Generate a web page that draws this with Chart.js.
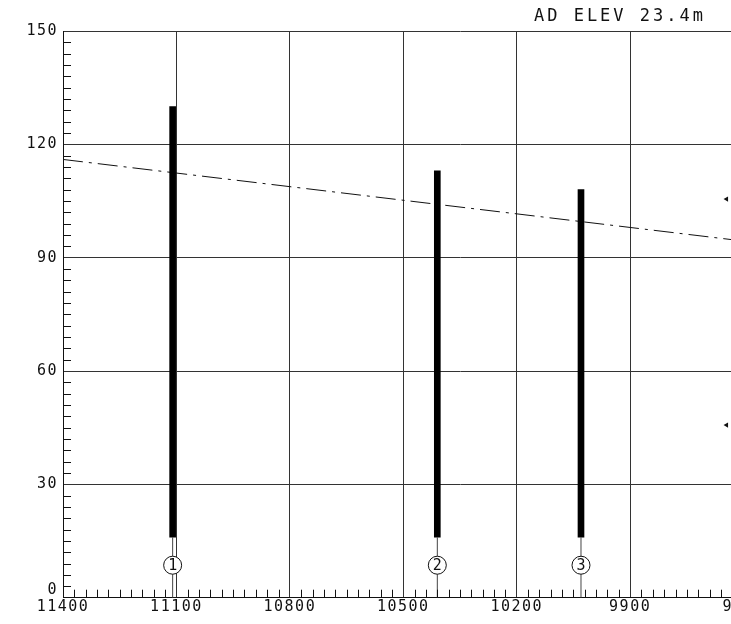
<!DOCTYPE html>
<html>
<head>
<meta charset="utf-8">
<script src="https://cdn.jsdelivr.net/npm/chart.js@4.4.1/dist/chart.umd.min.js"></script>
<style>
  html, body { margin: 0; padding: 0; background: #fff; overflow: hidden; }
  #wrap { width: 897px; height: 624px; position: relative; }
</style>
</head>
<body>
<div id="wrap"><canvas id="profile"></canvas></div>
<script>
// distance (m, decreasing to the right) and height (m)
const obstacleX = [11110, 10410, 10030];
const obstacleBase = [16, 16, 16];
const obstacleTop = [130, 113, 108];
const obstacleNums = ["1", "2", "3"];
const labelHeight = 8.6;

const surfaceX = [11400, 9600];
const surfaceY = [116, 94.4];

const arrowX = [9645, 9645];
const arrowY = [105.5, 45.7];

const titleText = "AD ELEV 23.4m";
const FONT = "'DejaVu Sans Mono', monospace";
const INK = "#111";

const bars = obstacleX.map((x, i) => ({ x: x, y: [obstacleBase[i], obstacleTop[i]] }));
const stems = obstacleX.map((x, i) => ({
  type: "line",
  data: [{ x: x, y: 0 }, { x: x, y: obstacleBase[i] }],
  borderColor: "#444",
  borderWidth: 1,
  pointRadius: 0,
  order: 1,
}));

// minor ticks, title, circled numbers, the lifted "0"
const drawingExtras = {
  id: "drawingExtras",
  beforeDraw(chart) {
    chart.ctx.letterSpacing = "1.5px";
  },
  afterDraw(chart) {
    const ctx = chart.ctx;
    const xs = chart.scales.x;
    const ys = chart.scales.y;
    const area = chart.chartArea;
    ctx.save();
    ctx.strokeStyle = INK;
    ctx.lineWidth = 1;
    ctx.beginPath();
    for (let v = 3; v < 150; v += 3) {
      if (v % 30 === 0) continue;
      const py = Math.round(ys.getPixelForValue(v)) + 0.5;
      ctx.moveTo(area.left, py);
      ctx.lineTo(area.left + 8, py);
    }
    for (let v = 9330; v < 11400; v += 30) {
      if (v % 300 === 0) continue;
      const px = Math.round(xs.getPixelForValue(v)) + 0.5;
      ctx.moveTo(px, area.bottom);
      ctx.lineTo(px, area.bottom - 8);
    }
    ctx.stroke();

    ctx.fillStyle = INK;
    ctx.font = "15px " + FONT;
    ctx.letterSpacing = "1.5px";
    ctx.textAlign = "right";
    ctx.textBaseline = "middle";
    ctx.fillText("0", area.left - 5, ys.getPixelForValue(0) - 8);

    ctx.font = "15px " + FONT;
    ctx.letterSpacing = "0px";
    ctx.textAlign = "center";
    const meta = chart.getDatasetMeta(1);
    meta.data.forEach((pt, i) => {
      ctx.fillText(obstacleNums[i], pt.x, pt.y + 1);
    });

    ctx.font = "17px " + FONT;
    ctx.letterSpacing = "3px";
    ctx.textAlign = "right";
    ctx.fillText(titleText, 706, 17);
    ctx.restore();
  },
};

new Chart(document.getElementById("profile"), {
  data: {
    datasets: [
      {
        type: "bar",
        data: bars,
        backgroundColor: "#000",
        barThickness: 6,
        order: 2,
      },
      {
        type: "scatter",
        data: obstacleX.map((x) => ({ x: x, y: labelHeight })),
        pointRadius: 9,
        pointBackgroundColor: "#fff",
        pointBorderColor: INK,
        pointBorderWidth: 1,
        order: 0,
      },
      {
        type: "line",
        data: surfaceX.map((x, i) => ({ x: x, y: surfaceY[i] })),
        borderColor: INK,
        borderWidth: 1,
        borderDash: [20, 6, 3, 6],
        pointRadius: 0,
        order: 3,
      },
      {
        type: "scatter",
        data: arrowX.map((x, i) => ({ x: x, y: arrowY[i] })),
        pointStyle: "triangle",
        rotation: -90,
        pointRadius: 3,
        pointBackgroundColor: INK,
        pointBorderColor: INK,
        pointBorderWidth: 0,
        order: 0,
      },
      ...stems,
    ],
  },
  options: {
    responsive: true,
    maintainAspectRatio: false,
    animation: false,
    layout: { padding: { top: 31, right: 40, left: 0, bottom: 0 } },
    plugins: {
      legend: { display: false },
      tooltip: { enabled: false },
      title: { display: false },
    },
    scales: {
      x: {
        type: "linear",
        reverse: true,
        min: 9300,
        max: 11400,
        offset: false,
        afterFit: (s) => { s.height = 26.3; },
        ticks: {
          stepSize: 300,
          padding: 0,
          color: INK,
          font: { family: FONT, size: 15 },
          maxRotation: 0,
          autoSkip: false,
          callback: (v) => String(v),
        },
        grid: { color: "#333", lineWidth: 1, drawTicks: false, offset: false },
        border: { color: INK, width: 1 },
      },
      y: {
        type: "linear",
        min: 0,
        max: 150,
        afterFit: (s) => { s.width = 63; },
        ticks: {
          stepSize: 30,
          padding: 5,
          color: INK,
          font: { family: FONT, size: 15 },
          callback: (v) => (v === 0 ? "" : String(v)),
        },
        grid: { color: "#333", lineWidth: 1, drawTicks: false },
        border: { color: INK, width: 1 },
      },
    },
  },
  plugins: [drawingExtras],
});
</script>
</body>
</html>
